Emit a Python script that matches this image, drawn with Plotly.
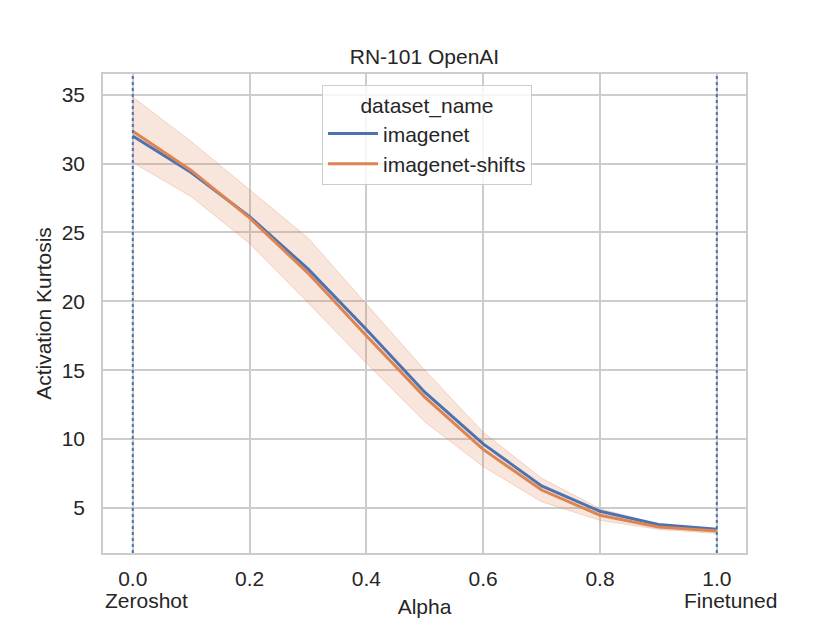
import plotly.graph_objects as go

# values
alpha = [0.0, 0.1, 0.2, 0.3, 0.4, 0.5, 0.6, 0.7, 0.8, 0.9, 1.0]
imagenet = [32.0, 29.35, 26.15, 22.35, 17.95, 13.4, 9.65, 6.6, 4.76, 3.8, 3.45]
imagenet_shifts = [32.35, 29.5, 26.05, 22.05, 17.5, 13.05, 9.25, 6.3, 4.47, 3.62, 3.33]
shifts_upper = [34.83, 31.6, 28.1, 24.6, 19.8, 15.0, 10.5, 7.15, 4.95, 3.8, 3.5]
shifts_lower = [30.07, 27.6, 24.2, 19.9, 15.5, 11.25, 8.0, 5.45, 4.1, 3.45, 3.15]

x_ticks = [0.0, 0.2, 0.4, 0.6, 0.8, 1.0]
x_ticktext = ["0.0", "0.2", "0.4", "0.6", "0.8", "1.0"]
y_ticks = [5, 10, 15, 20, 25, 30, 35]
# second line under the end ticks
end_labels = {0.0: "Zeroshot", 1.0: "Finetuned"}
marker_lines = [0.0, 1.0]

BLUE = "#4c72b0"
ORANGE = "#dd8452"
GRID = "#cccccc"
TEXT = "#262626"
FONT = "Liberation Sans, Arial, sans-serif"
FS = 21

fig = go.Figure()

# confidence band of imagenet-shifts
fig.add_trace(go.Scatter(
    x=alpha + alpha[::-1],
    y=shifts_upper + shifts_lower[::-1],
    fill="toself",
    fillcolor="rgba(221,132,82,0.2)",
    line=dict(color="rgba(221,132,82,0.3)", width=1),
    hoverinfo="skip",
    showlegend=False,
))

fig.add_trace(go.Scatter(
    x=alpha, y=imagenet, mode="lines", name="imagenet",
    line=dict(color=BLUE, width=3),
))
fig.add_trace(go.Scatter(
    x=alpha, y=imagenet_shifts, mode="lines", name="imagenet-shifts",
    line=dict(color=ORANGE, width=3),
))

for xv in marker_lines:
    fig.add_shape(
        type="line", xref="x", yref="paper", x0=xv, x1=xv, y0=0, y1=1,
        line=dict(color=BLUE, width=2, dash="dot"), layer="above",
    )

for xv, txt in end_labels.items():
    fig.add_annotation(
        x=xv, xref="x", y=-0.1, yref="paper", yanchor="middle",
        text=txt, showarrow=False, xshift=14, font=dict(size=FS, color=TEXT),
    )

# the page sits 8px in from the window corner, so margins are shifted by 8
fig.update_layout(
    width=830, height=623,
    margin=dict(l=95, r=92, t=66, b=78),
    paper_bgcolor="white", plot_bgcolor="white",
    font=dict(family=FONT, size=FS, color=TEXT),
    title=dict(
        text="RN-101 OpenAI", x=0.5, xref="paper",
        y=1 - 49 / 623, yref="container", yanchor="middle",
        font=dict(size=FS, color=TEXT),
    ),
    legend=dict(
        x=0.3406, y=0.977, xanchor="left", yanchor="top",
        bgcolor="rgba(255,255,255,0.8)", bordercolor=GRID, borderwidth=1,
        title=dict(text="dataset_name", side="top center", font=dict(size=FS)),
        font=dict(size=FS), itemwidth=50,
    ),
    showlegend=True,
)

fig.update_xaxes(
    range=[-0.051, 1.05], tickvals=x_ticks, ticktext=x_ticktext,
    showgrid=True, gridcolor=GRID, gridwidth=1.5, zeroline=False,
    showline=True, linecolor=GRID, linewidth=1.5, mirror=True,
    ticks="", ticklabelstandoff=6, automargin=False,
    title=dict(text="Alpha", standoff=10, font=dict(size=FS)),
)
fig.update_yaxes(
    range=[1.73, 36.5], tickvals=y_ticks,
    showgrid=True, gridcolor=GRID, gridwidth=1.5, zeroline=False,
    showline=True, linecolor=GRID, linewidth=1.5, mirror=True,
    ticks="", ticklabelstandoff=12, automargin=False,
    title=dict(text="Activation Kurtosis", standoff=4, font=dict(size=FS)),
)

fig.write_html("out.html")
